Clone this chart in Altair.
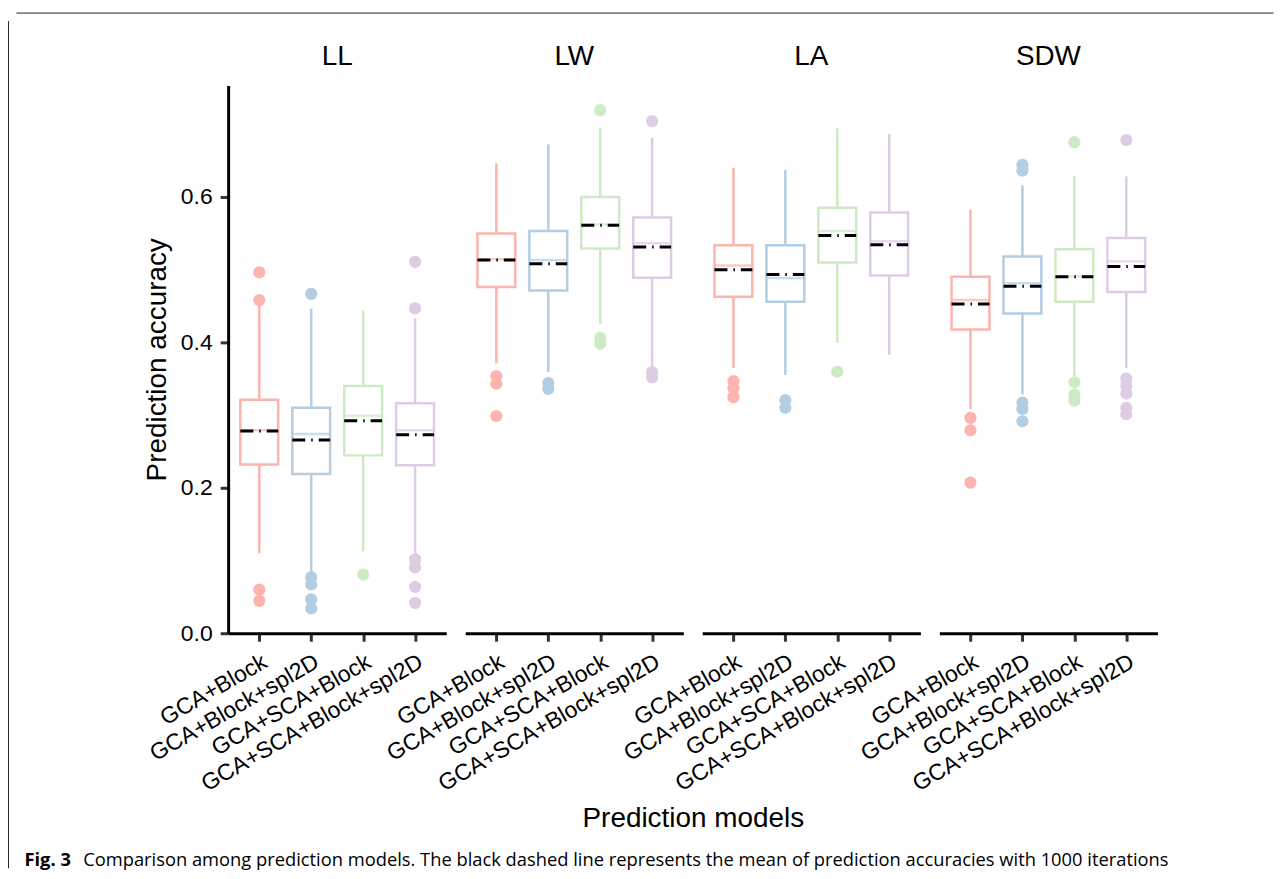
import altair as alt
import pandas as pd

traits = ["LL", "LW", "LA", "SDW"]
models = ["GCA+Block", "GCA+Block+spl2D", "GCA+SCA+Block", "GCA+SCA+Block+spl2D"]
colors = ["#FBB4AE", "#B3CDE3", "#CCEBC5", "#DECBE4"]

# box statistics, trait-major order (LL, LW, LA, SDW) x 4 models
q1 = [0.232, 0.219, 0.2445, 0.231,
      0.476, 0.471, 0.529, 0.4886,
      0.4626, 0.4556, 0.5095, 0.4918,
      0.4175, 0.4395, 0.4558, 0.469]
q3 = [0.321, 0.310, 0.340, 0.316,
      0.5496, 0.553, 0.5996, 0.5716,
      0.5335, 0.5335, 0.585, 0.5784,
      0.490, 0.5178, 0.5277, 0.5433]
median = [0.279, 0.274, 0.299, 0.279,
          0.514, 0.513, 0.562, 0.536,
          0.5056, 0.4884, 0.553, 0.5387,
          0.458, 0.481, 0.4909, 0.5115]
mean = [0.278, 0.2655, 0.292, 0.273,
        0.513, 0.508, 0.561, 0.531,
        0.4997, 0.493, 0.5467, 0.534,
        0.4527, 0.477, 0.490, 0.504]
whisker_lo = [0.110, 0.083, 0.1125, 0.1076,
              0.371, 0.359, 0.425, 0.366,
              0.3646, 0.355, 0.399, 0.3828,
              0.3084, 0.328, 0.3539, 0.3646]
whisker_hi = [0.452, 0.446, 0.4435, 0.433,
              0.646, 0.672, 0.695, 0.681,
              0.6396, 0.637, 0.694, 0.686,
              0.5824, 0.6157, 0.629, 0.628]
outliers = [
    [0.496, 0.458, 0.060, 0.0445],
    [0.4665, 0.077, 0.067, 0.0465, 0.034],
    [0.0807],
    [0.5105, 0.4465, 0.1017, 0.0905, 0.0636, 0.0416],
    [0.3535, 0.343, 0.2986],
    [0.344, 0.336],
    [0.719, 0.406, 0.398],
    [0.704, 0.359, 0.352],
    [0.3466, 0.337, 0.3245],
    [0.3206, 0.3099],
    [0.3597],
    [],
    [0.296, 0.279, 0.207],
    [0.644, 0.636, 0.317, 0.3084, 0.2914],
    [0.675, 0.345, 0.328, 0.3197],
    [0.678, 0.350, 0.340, 0.3295, 0.3099, 0.3011],
]
y_ticks = [0.0, 0.2, 0.4, 0.6]
caption_bold = "Fig. 3"
caption_text = ("Comparison among prediction models. The black dashed line represents "
                "the mean of prediction accuracies with 1000 iterations")

rows = []
for ti, t in enumerate(traits):
    for mi, m in enumerate(models):
        k = ti * 4 + mi
        rows.append(dict(trait=t, model=m, kind="box", q1=q1[k], q3=q3[k],
                         med=median[k], mean=mean[k], lo=whisker_lo[k],
                         hi=whisker_hi[k], value=None))
        for v in outliers[k]:
            rows.append(dict(trait=t, model=m, kind="out", value=v))
df = pd.DataFrame(rows)

FONT = "Liberation Sans"
ysc = alt.Scale(domain=[0, 0.7531], nice=False, zero=True)
yax = alt.Axis(values=y_ticks, format=".1f", title="Prediction accuracy",
               titleFontSize=28, titleFontWeight="normal", titleFont=FONT,
               titleColor="black", titlePadding=9,
               labelFontSize=23, labelFont=FONT, labelColor="black", labelPadding=8,
               domainColor="black", domainWidth=3, tickColor="#333333",
               tickWidth=3, tickSize=8, grid=False)
xenc = alt.X("model:N", sort=models,
             scale=alt.Scale(type="point", padding=0.6),
             axis=alt.Axis(title=None, labelAngle=-30, labelFontSize=23,
                           labelFont=FONT, labelColor="black", labelPadding=9,
                           labelLimit=0,
                           domainColor="black", domainWidth=3,
                           tickColor="#333333", tickWidth=3, tickSize=8))
col = alt.Color("model:N", scale=alt.Scale(domain=models, range=colors), legend=None)

base = alt.Chart()
box_rows = base.transform_filter(alt.datum.kind == "box")

whisk = box_rows.mark_rule(strokeWidth=2.5).encode(
    x=xenc, y=alt.Y("lo:Q", scale=ysc, axis=yax), y2="hi:Q", color=col)
box = box_rows.mark_bar(size=38, fill="white", strokeWidth=2.5).encode(
    x=xenc, y=alt.Y("q1:Q", scale=ysc, axis=yax), y2="q3:Q",
    stroke=alt.Stroke("model:N", scale=alt.Scale(domain=models, range=colors), legend=None))
med = box_rows.mark_tick(size=38, thickness=2.5).encode(
    x=xenc, y=alt.Y("med:Q", scale=ysc, axis=yax), color=col)
mn = box_rows.mark_rule(color="black", strokeWidth=3, strokeDash=[13, 6, 1.5, 6],
                        xOffset=-19, x2Offset=19).encode(
    x=xenc, x2="model:N", y=alt.Y("mean:Q", scale=ysc, axis=yax))
outs = base.transform_filter(alt.datum.kind == "out").mark_circle(
    size=150, opacity=1).encode(
    x=xenc, y=alt.Y("value:Q", scale=ysc, axis=yax), color=col)

panel = alt.layer(whisk, box, med, mn, outs).properties(width=219, height=550)

faceted = panel.facet(
    column=alt.Column("trait:N", sort=traits,
                      header=alt.Header(title="Prediction models", titleOrient="bottom",
                                        labelOrient="top", labelFontSize=28,
                                        labelFont=FONT, labelColor="black",
                                        labelPadding=14, titleFontSize=28,
                                        titleFont=FONT, titleColor="black",
                                        titleFontWeight="normal", titlePadding=-1)),
    data=df, spacing=19)

cap_df = pd.DataFrame({"bold": [caption_bold], "text": [caption_text]})
cap_base = alt.Chart(cap_df)
cap1 = cap_base.mark_text(align="left", baseline="alphabetic", font="Open Sans",
                          fontSize=18.4, fontWeight="bold", color="black").encode(
    text="bold:N", x=alt.value(-204.5), y=alt.value(83.6))
cap2 = cap_base.mark_text(align="left", baseline="alphabetic", font="Open Sans",
                          fontSize=18.4, color="black").encode(
    text="text:N", x=alt.value(-145.5), y=alt.value(83.6))
frame_top = cap_base.mark_rule(color="#222222", strokeWidth=1).encode(
    x=alt.value(-212.5), x2=alt.value(1049.5), y=alt.value(-772.6))
frame_left = cap_base.mark_rule(color="#222222", strokeWidth=1).encode(
    x=alt.value(-220.5), y=alt.value(-764.6), y2=alt.value(86))
caption = alt.layer(frame_top, frame_left, cap1, cap2).properties(width=1, height=1)

chart = alt.vconcat(faceted, caption, spacing=700, bounds="flush").properties(
    padding={"left": 0, "top": 2, "right": 0, "bottom": 0}
).configure_view(stroke=None)

chart.save("out.html", embed_options={"renderer": "svg", "actions": False})
